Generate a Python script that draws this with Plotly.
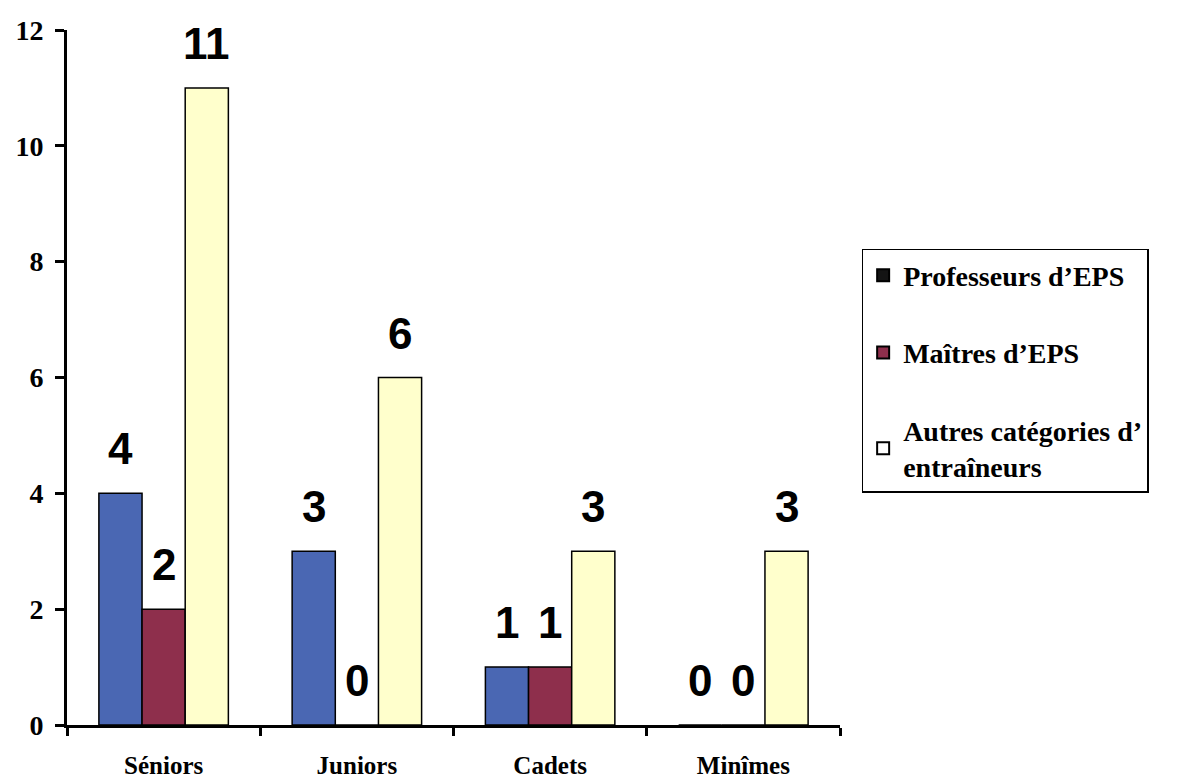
import plotly.graph_objects as go

# Age categories and number of coaches per profile
categories = ["Séniors", "Juniors", "Cadets", "Minîmes"]
professeurs = [4, 3, 1, 0]
maitres = [2, 0, 1, 0]
autres = [11, 6, 3, 3]

series_names = ["Professeurs d’EPS", "Maîtres d’EPS", "Autres catégories d’<br>entraîneurs"]
bar_colors = ["#4a67b3", "#8e2f4c", "#ffffcc"]
legend_colors = ["#141414", "#8e2f4c", "#ffffff"]

series = [professeurs, maitres, autres]

group_width = 0.67
bar_w = group_width / 3

fig = go.Figure()

for k, (vals, color) in enumerate(zip(series, bar_colors)):
    fig.add_trace(go.Bar(
        x=categories, y=vals,
        width=bar_w, offset=-group_width / 2 + k * bar_w,
        marker=dict(color=color, line=dict(color="black", width=1.5)),
        showlegend=False, hoverinfo="x+y",
    ))

# Legend entries with their own swatches
for k, (name, color) in enumerate(zip(series_names, legend_colors)):
    fig.add_trace(go.Scatter(
        x=[None], y=[None], mode="markers", name=name,
        legendgroup=f"g{k}",
        marker=dict(symbol="square", size=16, color=color,
                    line=dict(color="black", width=1.2)),
    ))

# Value labels above each bar
annotations = []
for k, vals in enumerate(series):
    for i, v in enumerate(vals):
        annotations.append(dict(
            x=i - group_width / 2 + (k + 0.5) * bar_w, y=v,
            xref="x", yref="y", text=str(v), showarrow=False,
            yanchor="bottom", yshift=18,
            font=dict(family="Liberation Sans", size=44, color="black", weight="bold"),
        ))

fig.update_layout(
    width=1180, height=780,
    margin=dict(l=67, r=340, t=30, b=55),
    plot_bgcolor="white", paper_bgcolor="white",
    barmode="overlay",
    annotations=annotations,
    font=dict(family="Liberation Serif", color="black"),
    legend=dict(
        x=1.028, y=0.685, xanchor="left", yanchor="top",
        bordercolor="black", borderwidth=1.5, bgcolor="white",
        tracegroupgap=38, itemsizing="constant", itemwidth=30,
        font=dict(family="Liberation Serif", size=28, color="black", weight="bold"),
    ),
    xaxis=dict(
        type="category", range=[-0.5, 3.5], automargin=False,
        showline=True, linecolor="black", linewidth=3,
        ticks="outside", tickson="boundaries", ticklen=8, tickwidth=3, tickcolor="black",
        showgrid=False, zeroline=False, ticklabelstandoff=16,
        tickfont=dict(family="Liberation Serif", size=25, color="black", weight="bold"),
    ),
    yaxis=dict(
        range=[0, 12], dtick=2, automargin=False,
        showline=True, linecolor="black", linewidth=3,
        ticks="outside", ticklen=9, tickwidth=3, tickcolor="black",
        showgrid=False, zeroline=False, ticklabelstandoff=6,
        tickfont=dict(family="Liberation Serif", size=28, color="black", weight="bold"),
    ),
)

fig.write_html("out.html")
